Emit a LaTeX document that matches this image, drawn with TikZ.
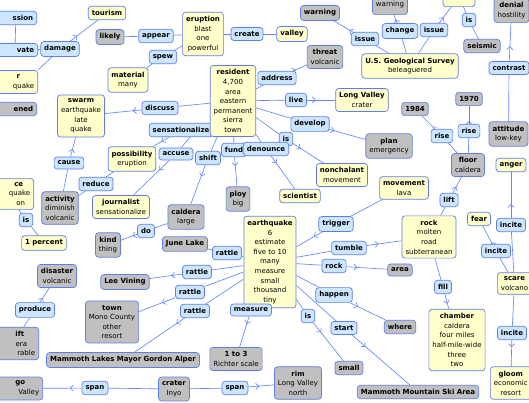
\documentclass[tikz,border=0pt]{standalone}
\usepackage{fontspec}
\setmainfont{DejaVu Sans}
\usetikzlibrary{arrows.meta,decorations.markings,backgrounds}
\definecolor{ylw}{RGB}{255,255,204}
\definecolor{blu}{RGB}{204,230,255}
\definecolor{gry}{RGB}{192,192,192}
\definecolor{brd}{RGB}{95,125,235}
\definecolor{lnc}{RGB}{100,135,255}
\tikzset{
  box/.style={draw=brd, line width=0.7pt, rounded corners=3pt, inner xsep=3.5pt, inner ysep=4pt, align=center, font=\fontsize{7}{9.6}\selectfont},
  cy/.style={box, fill=ylw},
  cg/.style={box, fill=gry},
  lk/.style={box, fill=blu},
  edgecut/.style={anchor=east, text width=#1, align=right},
  con/.style={draw=lnc, line width=0.65pt},
  arr/.style={postaction={decorate, decoration={markings, mark=at position #1 with {\arrow[lnc, line width=0.65pt]{Straight Barb[length=3pt,width=6pt]}}}}},
  arr/.default=9pt
}
\begin{document}
\begin{tikzpicture}[x=1pt,y=-1pt]
\path[use as bounding box] (0,0) rectangle (529,403);
\clip (0,0) rectangle (529,403);

% ---- left edge (cut by the frame)
\node[lk, edgecut=45pt] (ssion) at (37,18) {\textbf{ssion}};
\node[lk, edgecut=45pt] (vate) at (38,50) {\textbf{vate}};
\node[cy, edgecut=45pt] (fearq) at (38,82) {\textbf{r}\kern14pt\\quake};
\node[cg, edgecut=45pt] (ened) at (37,109) {\textbf{ened}};
\node[cy, edgecut=45pt] (chance) at (34,194) {\textbf{ce}\kern7pt\\quake\\on\kern5pt};
\node[cg, edgecut=45pt] (uplift) at (39,343.5) {\textbf{ift}\kern11pt\\era\kern8pt\\rable};
\node[cg, edgecut=45pt] (ago) at (43,388.5) {\textbf{go}\kern14pt\\Valley};

% ---- top-left
\node[lk] (damage) at (60,49) {\textbf{damage}};
\node[cy] (tourism) at (107,13) {\textbf{tourism}};
\node[cg] (likely) at (110,37) {\textbf{likely}};
\node[lk] (appear) at (156,36) {\textbf{appear}};
\node[lk] (spew) at (163,57) {\textbf{spew}};
\node[cy] (material) at (128,80) {\textbf{material}\\many};
\node[cy] (swarm) at (81,116) {\textbf{swarm}\\earthquake\\late\\quake};
\node[lk] (discuss) at (160,108) {\textbf{discuss}};
\node[lk] (sensationalize) at (181,130) {\textbf{sensationalize}};

% ---- top middle
\node[cy] (eruption) at (203,34) {\textbf{eruption}\\blast\\one\\powerful};
\node[lk] (create) at (247,34) {\textbf{create}};
\node[cy] (valley) at (292,34) {\textbf{valley}};
\node[cg] (warning) at (320,13) {\textbf{warning}};
\node[cg] (threat) at (325,57) {\textbf{threat}\\volcanic};
\node[lk] (address) at (277,78) {\textbf{address}};
\node[cy] (resident) at (233,101) {\textbf{resident}\\4,700\\area\\eastern\\permanent\\sierra\\town};
\node[lk] (live) at (296,100) {\textbf{live}};
\node[cy] (longvalley) at (362,100) {\textbf{Long Valley}\\crater};
\node[lk] (develop) at (310,124) {\textbf{develop}};
\node[lk] (isR) at (286,139) {\textbf{is}};

% ---- top right
\node[cg, anchor=south, minimum height=20pt] (warningtop) at (390,15) {warning};
\node[cy, anchor=south, minimum width=32pt, minimum height=20pt] (topbox) at (459,7) {};
\node[lk] (issueL) at (365,39) {\textbf{issue}};
\node[lk] (change) at (400,31) {\textbf{change}};
\node[lk] (issueR) at (434,30) {\textbf{issue}};
\node[lk] (isTop) at (469,20) {\textbf{is}};
\node[cg] (seismic) at (482,46) {\textbf{seismic}};
\node[cy] (usgs) at (410,66) {\textbf{U.S. Geological Survey}\\beleaguered};
\node[cg, anchor=south] (denial) at (511.5,23) {\textbf{denial}\\hostility};
\node[lk] (contrast) at (509,68) {\textbf{contrast}};
\node[cg] (attitude) at (508.5,134) {\textbf{attitude}\\low-key};
\node[cg] (y1984) at (415,109) {\textbf{1984}};
\node[cg] (y1970) at (469,99) {\textbf{1970}};
\node[lk] (rise1) at (442,136) {\textbf{rise}};
\node[lk] (rise2) at (469,131) {\textbf{rise}};
\node[cg] (floor) at (468,165) {\textbf{floor}\\caldera};
\node[cg] (plan) at (389,146) {\textbf{plan}\\emergency};
\node[cy] (anger) at (511,165) {\textbf{anger}};

% ---- middle
\node[cy] (possibility) at (132,159) {\textbf{possibility}\\eruption};
\node[lk] (accuse) at (176,154) {\textbf{accuse}};
\node[lk] (shift) at (208,158) {\textbf{shift}};
\node[lk] (fund) at (234,150) {\textbf{fund}};
\node[lk] (denounce) at (266,149) {\textbf{denounce}};
\node[cy] (nonchalant) at (342,175) {\textbf{nonchalant}\\movement};
\node[cg] (ploy) at (238,199) {\textbf{ploy}\\big};
\node[cy] (scientist) at (300,196) {\textbf{scientist}};
\node[cy] (movement) at (404,188) {\textbf{movement}\\lava};
\node[lk] (lift) at (449,200) {\textbf{lift}};
\node[cy] (fear) at (479,219) {\textbf{fear}};
\node[lk] (incite1) at (511,225) {\textbf{incite}};
\node[lk] (incite2) at (496,251) {\textbf{incite}};
\node[cy] (rockY) at (429,237) {\textbf{rock}\\molten\\road\\subterranean};

\node[lk] (cause) at (69,163) {\textbf{cause}};
\node[lk] (reduce) at (96,184) {\textbf{reduce}};
\node[cg] (activity) at (60,208) {\textbf{activity}\\diminish\\volcanic};
\node[lk] (isL) at (26,220) {\textbf{is}};
\node[cy] (onepct) at (44,243) {\textbf{1 percent}};
\node[cy] (journalist) at (121,207) {\textbf{journalist}\\sensationalize};
\node[lk] (donode) at (146,231) {\textbf{do}};
\node[cg] (kind) at (108,245) {\textbf{kind}\\thing};
\node[cg] (caldera) at (186,217) {\textbf{caldera}\\large};
\node[cg] (junelake) at (185,244) {\textbf{June Lake}};

% ---- earthquake cluster
\node[cy] (earthquake) at (270,262) {\textbf{earthquake}\\6\\estimate\\five to 10\\many\\measure\\small\\thousand\\tiny};
\node[lk] (trigger) at (336,224) {\textbf{trigger}};
\node[lk] (tumble) at (349,248) {\textbf{tumble}};
\node[lk] (rockL) at (334,266) {\textbf{rock}};
\node[cg] (area) at (400,270) {\textbf{area}};
\node[lk] (happen) at (334,295) {\textbf{happen}};
\node[lk] (start) at (344,328) {\textbf{start}};
\node[lk] (isB) at (308,316) {\textbf{is}};
\node[cg] (where) at (400,327) {\textbf{where}};
\node[cg] (small) at (349,368) {\textbf{small}};
\node[cg] (skiarea) at (418,392) {\textbf{Mammoth Mountain Ski Area}};
\node[lk] (measure) at (251,310) {\textbf{measure}};
\node[cg] (richter) at (236,359) {\textbf{1 to 3}\\Richter scale};
\node[lk] (rattle0) at (227,253) {\textbf{rattle}};
\node[lk] (rattle1) at (197,272) {\textbf{rattle}};
\node[lk] (rattle2) at (190,292) {\textbf{rattle}};
\node[lk] (rattle3) at (195,311) {\textbf{rattle}};

% ---- bottom left
\node[cg] (disaster) at (57,276) {\textbf{disaster}\\volcanic};
\node[lk] (produce) at (35,310) {\textbf{produce}};
\node[cg] (leevining) at (125,282) {\textbf{Lee Vining}};
\node[cg] (town) at (112,322) {\textbf{town}\\Mono County\\other\\resort};
\node[cg] (mayor) at (123,360) {\textbf{Mammoth Lakes Mayor Gordon Alper}};
\node[lk] (spanL) at (95,388) {\textbf{span}};
\node[cg] (crater) at (174,389) {\textbf{crater}\\Inyo};
\node[lk] (spanR) at (235,388) {\textbf{span}};
\node[cg] (rim) at (298,383) {\textbf{rim}\\Long Valley\\north};

% ---- bottom right
\node[lk] (fill) at (443,287) {\textbf{fill}};
\node[cy] (chamber) at (457,340) {\textbf{chamber}\\caldera\\four miles\\half-mile-wide\\three\\two};
\node[cy, anchor=west] (scare) at (497,283.5) {\textbf{scare}\\volcano};
\node[lk] (incite3) at (512,333) {\textbf{incite}};
\node[cy, anchor=west] (gloom) at (490,383) {\textbf{gloom}\\economic\\resort};

\begin{scope}[on background layer]
\fill[white] (0,0) rectangle (529,403);
\draw[con] ([xshift=5pt]ssion.south) -- ([xshift=3.5pt]vate.north);
\draw[con] (vate) -- (damage);
\draw[con,arr] (damage) -- (tourism);
\draw[con] (fearq.north east) -- (damage);
\draw[con] (likely) -- (appear);
\draw[con] (appear) -- (eruption);
\draw[con] (spew) -- (eruption);
\draw[con] (material) -- (spew);
\draw[con] (eruption) -- (create);
\draw[con] (create) -- (valley);
\draw[con,arr] (discuss) -- (swarm);
\draw[con] (resident) -- (discuss);
\draw[con,arr] (sensationalize) -- (possibility);
\draw[con] ([xshift=9pt]sensationalize.south) -- (accuse);
\draw[con,arr=14pt] (accuse) -- (journalist);
\draw[con] (resident) -- (shift);
\draw[con,arr=12pt] (shift) -- (caldera);
\draw[con] (resident) -- (fund);
\draw[con,arr] (fund) -- (ploy);
\draw[con] (resident) -- (denounce);
\draw[con,arr] (denounce) -- (scientist);
\draw[con] (resident) -- (isR);
\draw[con,arr] (isR) -- (nonchalant);
\draw[con] (resident) -- (develop);
\draw[con,arr=5pt] (develop) -- (plan);
\draw[con] (resident) -- (live);
\draw[con,arr] (live) -- (longvalley);
\draw[con] (resident) -- (address);
\draw[con,arr=3pt] (address) -- (threat);
\draw[con,arr=4pt] (issueL) -- (warning);
\draw[con] (issueL) -- (usgs);
\draw[con,arr=4pt] (change) -- (warningtop);
\draw[con] (change) -- (usgs);
\draw[con,arr=7pt] (issueR) -- (topbox);
\draw[con] (issueR) -- (usgs);
\draw[con] (topbox) -- (isTop);
\draw[con] (isTop) -- (seismic);
\draw[con,arr=15pt] (contrast) -- (denial);
\draw[con] (attitude) -- (contrast);
\draw[con,arr=3pt] (rise1) -- (y1984);
\draw[con] (floor) -- (rise1);
\draw[con,arr=3pt] (rise2) -- (y1970);
\draw[con] (floor) -- (rise2);
\draw[con,arr=7pt] (lift) -- (floor);
\draw[con] (rockY) -- (lift);
\draw[con,arr=14pt] (incite1) -- (anger);
\draw[con] (scare) -- (incite1);
\draw[con,arr=2pt] (incite2) -- (fear);
\draw[con] (scare) -- (incite2);
\draw[con] (scare) -- (incite3);
\draw[con,arr=7pt] (incite3) -- (gloom);
\draw[con] (rockY) -- (fill);
\draw[con,arr=10pt] (fill) -- (chamber);
\draw[con] (earthquake) -- (tumble);
\draw[con,arr=12pt] (tumble) -- (rockY);
\draw[con] (earthquake) -- (rockL);
\draw[con,arr=11pt] (rockL) -- (area);
\draw[con] (earthquake) -- (happen);
\draw[con,arr=9pt] (happen) -- (where);
\draw[con] (earthquake) -- (start);
\draw[con,arr=18pt] (start) -- (skiarea);
\draw[con] (earthquake) -- (isB);
\draw[con,arr=12pt] (isB) -- (small);
\draw[con,arr=8pt] (measure) -- (richter);
\draw[con] (movement) -- (trigger);
\draw[con,arr=10pt] (trigger) -- (earthquake);
\draw[con] (earthquake) -- (rattle0);
\draw[con] (rattle0) -- (junelake);
\draw[con] (earthquake) -- (rattle1);
\draw[con,arr=11pt] (rattle1) -- (leevining);
\draw[con] (earthquake) -- (rattle2);
\draw[con,arr=14pt] (rattle2) -- (town);
\draw[con] (earthquake) -- (rattle3);
\draw[con,arr=10pt] (rattle3) -- (mayor);
\draw[con] (chance) -- (isL);
\draw[con] (isL) -- (onepct);
\draw[con] (activity) -- (cause);
\draw[con,arr=8pt] (cause) -- (swarm);
\draw[con] (activity) -- (reduce);
\draw[con] (reduce) -- (possibility);
\draw[con] (donode) -- (caldera);
\draw[con,arr=5pt] (donode) -- (kind);
\draw[con,arr=5pt] (produce) -- (disaster);
\draw[con] (uplift) -- (produce);
\draw[con] (crater) -- (spanR);
\draw[con,arr=11pt] (spanR) -- (rim);
\draw[con] (crater) -- (spanL);
\draw[con,arr=12pt] (spanL) -- (ago);
\end{scope}
\end{tikzpicture}
\end{document}
